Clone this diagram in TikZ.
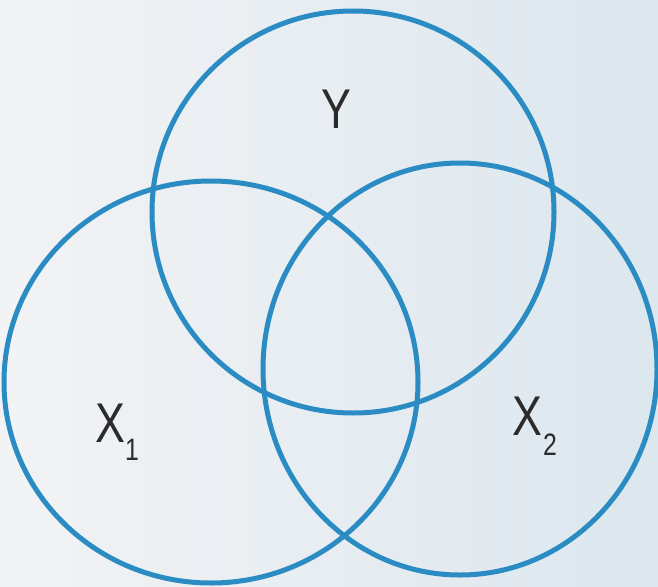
\documentclass[tikz,border=0pt]{standalone}
\usepackage{fontspec}
\setmainfont{Liberation Sans}
\definecolor{ring}{HTML}{2A8CC2}
\definecolor{bgl}{HTML}{F2F3F5}
\definecolor{bgr}{HTML}{DCE7EE}
\definecolor{ink}{HTML}{2B2B2B}
\tikzset{
  ring/.style={draw=ring, line width=5pt},
  lbl/.style={text=ink, inner sep=0pt, anchor=base, xscale=0.8, font=\fontsize{56}{56}\selectfont},
  sub/.style={text=ink, inner sep=0pt, anchor=base, xscale=0.8, font=\fontsize{31}{31}\selectfont}
}
\begin{document}
\begin{tikzpicture}[x=1pt, y=-1pt]
\useasboundingbox (0,0) rectangle (658,586);
\fill[left color=bgl, right color=bgr] (0,0) rectangle (658,586);
% circles
\draw[ring] (353,212) circle[radius=201pt];
\draw[ring] (211,382) ellipse[x radius=207pt, y radius=201pt];
\draw[ring] (460,369) ellipse[x radius=197pt, y radius=206pt];
% labels
\node[lbl] (ylab) at (336,128) {Y};
\node[lbl] (x1lab) at (110,442) {X};
\node[sub] (x1sub) at (132,460) {1};
\node[lbl] (x2lab) at (527,435) {X};
\node[sub] (x2sub) at (550,455) {2};
\end{tikzpicture}
\end{document}
